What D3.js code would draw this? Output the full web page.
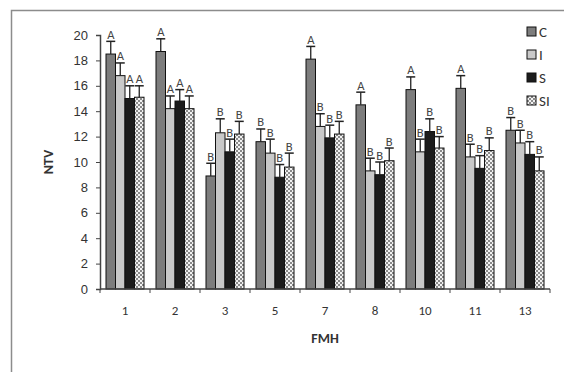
<!DOCTYPE html>
<html><head><meta charset="utf-8">
<script src="https://cdn.jsdelivr.net/npm/d3@7/dist/d3.min.js"></script>
<style>body{margin:0;background:#fff;} svg{display:block;font-family:Calibri,Carlito,"Liberation Sans",Arial,sans-serif;}</style>
</head><body>
<script>
const groups = ["1","2","3","5","7","8","10","11","13"];
const seriesNames = ["C","I","S","SI"];
const valC  = [18.5,18.7, 8.9,11.6,18.1,14.5,15.7,15.8,12.5];
const valI  = [16.8,14.2,12.3,10.7,12.8, 9.3,10.8,10.4,11.5];
const valS  = [15.0,14.8,10.8, 8.8,11.9, 9.0,12.4, 9.5,10.6];
const valSI = [15.1,14.2,12.2, 9.6,12.2,10.1,11.1,10.9, 9.3];
const errC  = [1.0,1.0,1.0,1.0,1.0,1.0,1.0,1.0,1.0];
const errI  = [1.0,1.0,1.1,1.1,1.0,1.0,1.0,1.0,1.0];
const errS  = [1.0,0.9,1.0,1.0,1.0,1.0,1.0,1.0,1.0];
const errSI = [0.9,1.0,1.0,1.1,1.0,1.0,0.9,1.0,1.1];
const letC  = ["A","A","B","B","A","A","A","A","B"];
const letI  = ["A","A","B","B","B","B","B","B","B"];
const letS  = ["A","A","B","B","B","B","B","B","B"];
const letSI = ["A","A","B","B","B","B","B","B","B"];
const yTicks = [0,2,4,6,8,10,12,14,16,18,20];

const vals = [valC,valI,valS,valSI], errs=[errC,errI,errS,errSI], lets=[letC,letI,letS,letSI];
const fills = ["#7d7d7d","#c9c9c9","#1c1c1c","url(#chk)"];

const W=564,H=372;
const svg = d3.select("body").append("svg").attr("width",W).attr("height",H);
const defs = svg.append("defs");
const pat = defs.append("pattern").attr("id","chk").attr("width",4).attr("height",4).attr("patternUnits","userSpaceOnUse");
pat.append("rect").attr("width",4).attr("height",4).attr("fill","#f2f2f2");
pat.append("rect").attr("width",2).attr("height",2).attr("fill","#8a8a8a");
pat.append("rect").attr("x",2).attr("y",2).attr("width",2).attr("height",2).attr("fill","#8a8a8a");

// frame
svg.append("path").attr("d","M11.5,372 V10.5 H564").attr("fill","none").attr("stroke","#8c8c8c").attr("stroke-width",1.5);

const x0 = d3.scaleBand().domain(groups).range([100,550]).paddingInner(0.24).paddingOuter(0.12);
const x1 = d3.scaleBand().domain(seriesNames).range([0,x0.bandwidth()]);
const y = d3.scaleLinear().domain([0,20]).range([289,35]);

const txtCol="#333";
// y axis
const ya = svg.append("g").attr("transform","translate(100,0)").call(d3.axisLeft(y).tickValues(yTicks).tickSize(4).tickPadding(8));
ya.select(".domain").attr("stroke","#444").attr("stroke-width",1.5);
ya.selectAll(".tick line").attr("stroke","#444");
ya.selectAll("text").attr("font-size",13).attr("fill",txtCol);

// bars
const gs = svg.append("g").selectAll("g").data(groups).join("g").attr("transform",d=>`translate(${x0(d)},0)`);
seriesNames.forEach((s,si)=>{
  gs.append("rect")
    .attr("x",x1(s)).attr("width",x1.bandwidth())
    .attr("y",(d,i)=>y(vals[si][i])).attr("height",(d,i)=>y(0)-y(vals[si][i]))
    .attr("fill",fills[si]).attr("stroke","#111").attr("stroke-width",1);
  const cx = x1(s)+x1.bandwidth()/2;
  gs.append("line").attr("x1",cx).attr("x2",cx)
    .attr("y1",(d,i)=>y(vals[si][i])).attr("y2",(d,i)=>y(vals[si][i]+errs[si][i]))
    .attr("stroke","#222").attr("stroke-width",1.3);
  gs.append("line").attr("x1",cx-4.5).attr("x2",cx+4.5)
    .attr("y1",(d,i)=>y(vals[si][i]+errs[si][i])).attr("y2",(d,i)=>y(vals[si][i]+errs[si][i]))
    .attr("stroke","#222").attr("stroke-width",1.5);
  gs.append("text").attr("x",cx).attr("y",(d,i)=>y(vals[si][i]+errs[si][i])-2.5)
    .attr("text-anchor","middle").attr("font-size",12.5).attr("fill","#444")
    .text((d,i)=>lets[si][i]);
});

// x axis
const xa = svg.append("g").attr("transform","translate(0,289)");
xa.append("line").attr("x1",100).attr("x2",550).attr("stroke","#444").attr("stroke-width",1.5);
const bounds = groups.map(g=>x0(g)-x0.step()*x0.paddingInner()/2);
bounds.push(x0(groups[groups.length-1])+x0.bandwidth()+x0.step()*x0.paddingInner()/2);
xa.selectAll(".tk").data(bounds).join("line").attr("x1",d=>d).attr("x2",d=>d).attr("y1",0).attr("y2",4).attr("stroke","#444");
xa.selectAll(".lb").data(groups).join("text").attr("x",d=>x0(d)+x0.bandwidth()/2).attr("y",26)
  .attr("text-anchor","middle").attr("font-size",13).attr("fill",txtCol).text(d=>d);

// axis titles
svg.append("text").attr("x",325).attr("y",343).attr("text-anchor","middle").attr("font-weight","bold").attr("font-size",14).attr("fill","#333").text("FMH");
svg.append("text").attr("transform","translate(53,162) rotate(-90)").attr("text-anchor","middle").attr("font-weight","bold").attr("font-size",14).attr("fill","#333").text("NTV");

// legend
const lg = svg.append("g").selectAll("g").data(seriesNames).join("g").attr("transform",(d,i)=>`translate(527,${27+i*23})`);
lg.append("rect").attr("width",9).attr("height",9).attr("fill",(d,i)=>fills[i]).attr("stroke","#111");
lg.append("text").attr("x",12).attr("y",10).attr("font-size",15).attr("fill","#333").text(d=>d);
</script>
</body></html>
